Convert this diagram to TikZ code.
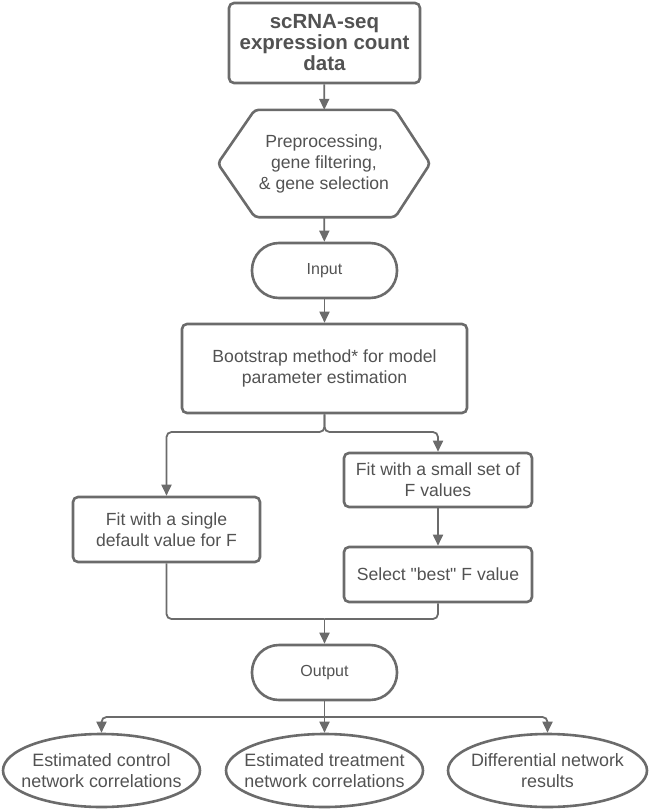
\documentclass[tikz,border=0pt]{standalone}
\usepackage{fontspec}
\setmainfont{Liberation Sans}[Ligatures=TeXOff]
\usetikzlibrary{arrows.meta,shapes.geometric,calc}
\definecolor{ln}{HTML}{6B6B6B}
\definecolor{tx}{HTML}{525252}
\begin{document}
\begin{tikzpicture}[x=1pt,y=-1pt,
  every node/.style={text=tx, align=center, inner sep=0pt, font=\fontsize{17.6}{21}\selectfont},
  rbox/.style={draw=ln, line width=2.6pt, rounded corners=5pt},
  stad/.style={draw=ln, line width=2.6pt, rounded corners=27pt, minimum width=145pt, minimum height=55pt, font=\fontsize{16}{19}\selectfont},
  ell/.style={draw=ln, line width=2.6pt, ellipse, minimum width=197pt, minimum height=73pt},
  ellt/.style={font=\fontsize{17.9}{21}\selectfont},
  conn/.style={draw=ln, line width=1.8pt, rounded corners=5pt},
  arr/.style={conn, -{Triangle[length=11pt,width=10pt]}}]
\useasboundingbox (0,0) rectangle (651,811);

\node[rbox, minimum width=191pt, minimum height=80pt, font=\bfseries\fontsize{20.5}{21}\selectfont] (top) at (324.5,43) {scRNA-seq\\expression count\\data};
\node[minimum width=212pt, minimum height=107pt] (prep) at (324,163.5) {Preprocessing,\\gene filtering,\\\& gene selection};
\draw[draw=ln, line width=2.6pt, rounded corners=4pt]
  (prep.west) -- ($(prep.north west)+(37,0)$) -- ($(prep.north east)+(-35,0)$) -- (prep.east)
  -- ($(prep.south east)+(-35,0)$) -- ($(prep.south west)+(37,0)$) -- cycle;
\node[stad] (input) at (324.5,270.5) {Input};
\node[rbox, minimum width=285pt, minimum height=89pt] (boot) at (324.5,368.5) {Bootstrap method* for model\\parameter estimation};
\node[rbox, minimum width=187pt, minimum height=65pt] (fit1) at (166.5,529.5) {Fit with a single\\default value for F};
\node[rbox, minimum width=188pt, minimum height=54pt] (fitF) at (438,480) {Fit with a small set of\\F values};
\node[rbox, minimum width=188pt, minimum height=55pt] (sel) at (438,574.5) {Select "best" F value};
\node[stad] (out) at (324.5,672.5) {Output};
\node[ell] (e1) at (101.5,770.5) {};
\node[ellt] (e1t) at (e1.center) {Estimated control\\network correlations};
\node[ell] (e2) at (324.5,770.5) {};
\node[ellt] (e2t) at (e2.center) {Estimated treatment\\network correlations};
\node[ell, minimum width=199pt] (e3) at (547.5,770.5) {};
\node[ellt] (e3t) at (e3.center) {Differential network\\results};

\coordinate (split) at (324.5,432);
\coordinate (merge) at (324.5,619);
\coordinate (fan) at (324.5,717);

\draw[arr] (top) -- (prep);
\draw[arr] (prep) -- (input);
\draw[arr] (input) -- (boot);
\draw[arr] (boot.south) |- (split) -| (fit1.north);
\draw[arr] (boot.south) |- (split) -| (fitF.north);
\draw[arr] (fitF) -- (sel);
\draw[conn] (fit1.south) |- (merge);
\draw[conn] (sel.south) |- (merge);
\draw[arr] (merge) -- (out.north);
\draw[conn] (out.south) -- (fan);
\draw[arr] (fan) -| (e1.north);
\draw[arr] (fan) -- (e2.north);
\draw[arr] (fan) -| (e3.north);
\end{tikzpicture}
\end{document}
